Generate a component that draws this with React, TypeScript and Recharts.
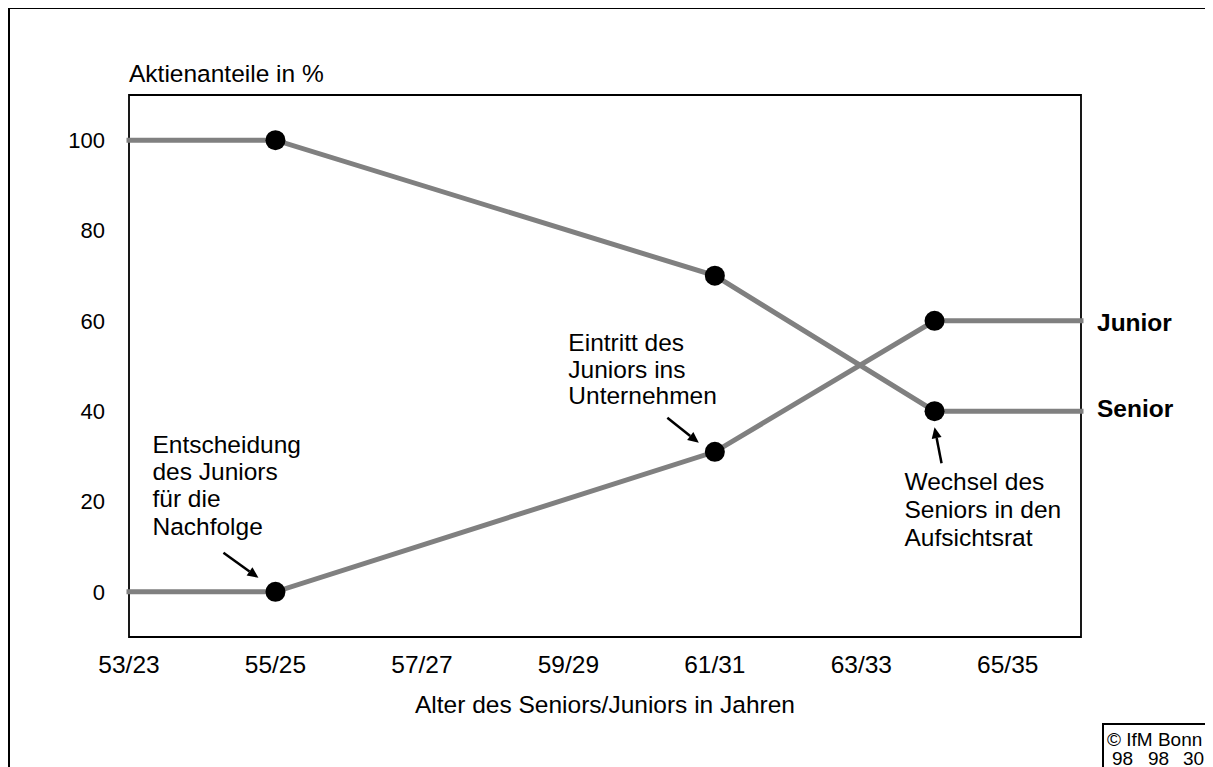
import React from "react";
import { LineChart, Line, XAxis, YAxis, ReferenceArea, ReferenceDot } from "recharts";

// ---- data ----
const xValues = [53, 55, 61, 64, 66];
const seniorValues = [100, 100, 70, 40, 40];
const juniorValues = [0, 0, 31, 60, 60];
const xTicks = [53, 55, 57, 59, 61, 63, 65];
const xTickLabels = ["53/23", "55/25", "57/27", "59/29", "61/31", "63/33", "65/35"];
const yTicks = [0, 20, 40, 60, 80, 100];
const yAxisTitle = "Aktienanteile in %";
const xAxisTitle = "Alter des Seniors/Juniors in Jahren";
const seriesNames = ["Senior", "Junior"];
const noteDecision = ["Entscheidung", "des Juniors", "für die", "Nachfolge"];
const noteEntry = ["Eintritt des", "Juniors ins", "Unternehmen"];
const noteBoard = ["Wechsel des", "Seniors in den", "Aufsichtsrat"];
const copyrightLines = ["© IfM Bonn"];
const copyrightCodes = ["98", "98", "30"];

const data = xValues.map((x, i) => ({ x, senior: seniorValues[i], junior: juniorValues[i] }));

const FONT = "'Liberation Sans', Arial, Helvetica, sans-serif";
const LINE_COLOR = "#808080";
const FS = 24.5;

const Arrow = ({ x1, y1, x2, y2 }: { x1: number; y1: number; x2: number; y2: number }) => {
  const ang = Math.atan2(y2 - y1, x2 - x1);
  const L = 11;
  const W = 5;
  const bx = x2 - L * Math.cos(ang);
  const by = y2 - L * Math.sin(ang);
  const px = -Math.sin(ang) * W;
  const py = Math.cos(ang) * W;
  return (
    <g>
      <line x1={x1} y1={y1} x2={bx} y2={by} stroke="#000" strokeWidth={2.5} />
      <polygon points={`${x2},${y2} ${bx + px},${by + py} ${bx - px},${by - py}`} fill="#000" />
    </g>
  );
};

const MultiText = ({ x, y, lines, step }: { x: number; y: number; lines: string[]; step: number }) => (
  <text x={x} y={y} fontSize={FS} fill="#000" fontFamily={FONT}>
    {lines.map((l, i) => (
      <tspan key={i} x={x} y={y + i * step}>
        {l}
      </tspan>
    ))}
  </text>
);

const renderDot = (props: any) => {
  const { cx, cy, index } = props;
  if (index === 0 || index === xValues.length - 1) return <g key={`e${index}`} />;
  return <circle key={`d${index}`} cx={cx} cy={cy} r={10} fill="#000" stroke="none" />;
};

export default function App() {
  return (
    <div style={{ position: "relative", width: 1200, height: 760, fontFamily: FONT }}>
      <style>{`html,body{overflow:hidden;}`}</style>
      <svg
        width={1200}
        height={760}
        style={{ position: "absolute", left: 0, top: 0, overflow: "visible" }}
      >
        <path d="M1,800 V0 H1199 V800" fill="none" stroke="#000" strokeWidth={2} />
        <path d="M1095,800 V716 H1199" fill="none" stroke="#000" strokeWidth={2} />
        <text x={1099} y={738} fontSize={19} fill="#000" fontFamily={FONT}>
          {copyrightLines[0]}
        </text>
        <text y={757} fontSize={19} fill="#000" fontFamily={FONT}>
          <tspan x={1104}>{copyrightCodes[0]}</tspan>
          <tspan x={1140}>{copyrightCodes[1]}</tspan>
          <tspan x={1175}>{copyrightCodes[2]}</tspan>
        </text>
      </svg>
      <div style={{ position: "absolute", left: 0, top: 0 }}>
        <LineChart width={1200} height={760} data={data} margin={{ top: 87, right: 127, bottom: 101, left: 61 }}>
          <XAxis
            dataKey="x"
            type="number"
            domain={[53, 66]}
            ticks={xTicks}
            interval={0}
            tickFormatter={(v: number) => xTickLabels[xTicks.indexOf(v)]}
            axisLine={false}
            tickLine={false}
            tickSize={0}
            tickMargin={19}
            height={30}
            tick={{ fill: "#000", fontSize: FS }}
          />
          <YAxis
            type="number"
            domain={[-10, 110]}
            ticks={yTicks}
            interval={0}
            axisLine={false}
            tickLine={false}
            tickSize={0}
            tickMargin={24}
            width={60}
            tick={{ fill: "#000", fontSize: 22 }}
          />
          <ReferenceArea
            x1={53}
            x2={66}
            y1={-10}
            y2={110}
            fill="none"
            fillOpacity={0}
            stroke="#000"
            strokeWidth={1.8}
            ifOverflow="visible"
          />
          <Line
            dataKey="senior"
            stroke={LINE_COLOR}
            strokeWidth={5}
            strokeLinecap="square"
            dot={renderDot}
            activeDot={false}
            isAnimationActive={false}
          />
          <Line
            dataKey="junior"
            stroke={LINE_COLOR}
            strokeWidth={5}
            strokeLinecap="square"
            dot={renderDot}
            activeDot={false}
            isAnimationActive={false}
          />
          <ReferenceDot
            x={53}
            y={110}
            r={1}
            ifOverflow="visible"
            shape={(p: any) => (
              <text x={p.cx} y={p.cy - 13} fontSize={FS} fill="#000" fontFamily={FONT}>
                {yAxisTitle}
              </text>
            )}
          />
          <ReferenceDot
            x={59.5}
            y={-10}
            r={1}
            ifOverflow="visible"
            shape={(p: any) => (
              <text x={p.cx} y={p.cy + 76} fontSize={FS} fill="#000" textAnchor="middle" fontFamily={FONT}>
                {xAxisTitle}
              </text>
            )}
          />
          <ReferenceDot
            x={xValues[4]}
            y={juniorValues[4]}
            r={1}
            ifOverflow="visible"
            shape={(p: any) => (
              <text x={p.cx + 16} y={p.cy + 10} fontSize={FS} fontWeight="bold" fill="#000" fontFamily={FONT}>
                {seriesNames[1]}
              </text>
            )}
          />
          <ReferenceDot
            x={xValues[4]}
            y={seniorValues[4]}
            r={1}
            ifOverflow="visible"
            shape={(p: any) => (
              <text x={p.cx + 16} y={p.cy + 6} fontSize={FS} fontWeight="bold" fill="#000" fontFamily={FONT}>
                {seriesNames[0]}
              </text>
            )}
          />
          <ReferenceDot
            x={xValues[1]}
            y={juniorValues[1]}
            r={1}
            ifOverflow="visible"
            shape={(p: any) => (
              <g>
                <MultiText x={p.cx - 123} y={p.cy - 139} lines={noteDecision} step={27.3} />
                <Arrow x1={p.cx - 52} y1={p.cy - 39} x2={p.cx - 17} y2={p.cy - 14} />
              </g>
            )}
          />
          <ReferenceDot
            x={xValues[2]}
            y={juniorValues[2]}
            r={1}
            ifOverflow="visible"
            shape={(p: any) => (
              <g>
                <MultiText x={p.cx - 146.5} y={p.cy - 101} lines={noteEntry} step={26.8} />
                <Arrow x1={p.cx - 47.5} y1={p.cy - 34} x2={p.cx - 16} y2={p.cy - 9} />
              </g>
            )}
          />
          <ReferenceDot
            x={xValues[3]}
            y={seniorValues[3]}
            r={1}
            ifOverflow="visible"
            shape={(p: any) => (
              <g>
                <MultiText x={p.cx - 30} y={p.cy + 79} lines={noteBoard} step={28} />
                <Arrow x1={p.cx + 7} y1={p.cy + 52} x2={p.cx} y2={p.cy + 16} />
              </g>
            )}
          />
        </LineChart>
      </div>
    </div>
  );
}
